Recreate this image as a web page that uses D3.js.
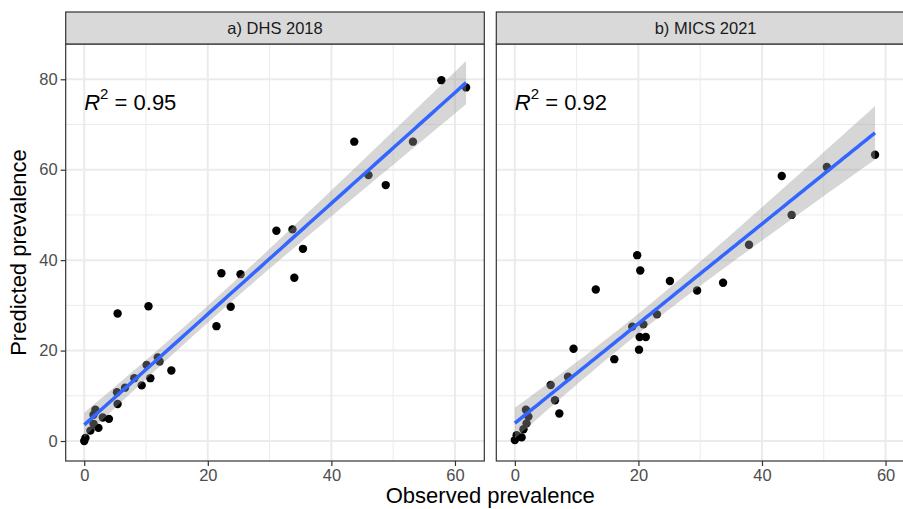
<!DOCTYPE html>
<html><head><meta charset="utf-8">
<script src="https://cdn.jsdelivr.net/npm/d3@7"></script>
<style>body{margin:0;background:#fff}svg{display:block}text{font-family:"Liberation Sans",Arial,Helvetica,sans-serif}</style>
</head><body>
<svg id="chart" width="903" height="509"></svg>
<script>
const panelTitles = ["a) DHS 2018", "b) MICS 2021"];
const r2Labels = ["0.95", "0.92"];
const dhsObserved  = [0.0,0.2,1.0,2.3,1.5,1.5,1.8,3.0,4.0,5.4,5.3,6.6,8.1,9.3,10.1,10.7,12.2,11.9,14.1,5.4,10.4,21.4,23.7,22.2,25.3,31.1,33.7,35.4,34.0,43.7,46.0,48.8,53.2,57.8,61.8];
const dhsPredicted = [0.0,0.7,2.3,2.9,3.8,5.8,6.9,5.2,4.9,8.2,10.8,11.8,13.9,12.3,16.8,13.9,17.6,18.5,15.6,28.2,29.8,25.4,29.7,37.1,36.9,46.5,46.8,42.5,36.1,66.2,58.8,56.6,66.2,79.8,78.2];
const micsObserved  = [0.0,0.3,1.1,1.4,1.9,1.8,2.2,5.8,6.5,7.2,8.6,9.5,13.1,16.1,19.0,19.8,20.3,20.1,20.2,21.2,20.8,23.0,25.1,29.5,33.7,37.9,43.2,44.8,50.5,58.3];
const micsPredicted = [0.2,1.3,0.8,2.6,3.9,6.9,5.4,12.4,9.0,6.1,14.2,20.4,33.5,18.1,25.3,41.1,37.7,20.2,23.0,23.0,25.8,28.0,35.4,33.3,35.0,43.4,58.6,50.0,60.6,63.3];
const xTicks = [0,20,40,60];
const yTicks = [0,20,40,60,80];
const xMinor = [10,30,50];
const yMinor = [10,30,50,70];
const xLabel = "Observed prevalence";
const yLabel = "Predicted prevalence";

const panels = [
  {title: panelTitles[0], r2: r2Labels[0], xs: dhsObserved, ys: dhsPredicted},
  {title: panelTitles[1], r2: r2Labels[1], xs: micsObserved, ys: micsPredicted}
];

const svg = d3.select("#chart");
const panelW = 418.6, topY = 44, bottomY = 461, stripTop = 12;
const lefts = [65.7, 496.3];
const x = d3.scaleLinear().domain([-3.0, 64.75]).range([0, panelW]);
const y = d3.scaleLinear().domain([-4.42, 87.8]).range([bottomY, topY]);

function tq(df){ return df >= 33 ? 2.035 : df >= 30 ? 2.042 : df>=28 ? 2.048 : 2.06; }

function fit(xs, ys){
  const n = xs.length, mx = d3.mean(xs), my = d3.mean(ys);
  let sxx=0, sxy=0;
  for(let i=0;i<n;i++){ sxx += (xs[i]-mx)**2; sxy += (xs[i]-mx)*(ys[i]-my); }
  const b = sxy/sxx, a = my - b*mx;
  let sse=0; for(let i=0;i<n;i++){ sse += (ys[i]-a-b*xs[i])**2; }
  const s = Math.sqrt(sse/(n-2)), t = tq(n-2);
  const lo = d3.min(xs), hi = d3.max(xs);
  return d3.range(0,81).map(k=>{
    const xv = lo + (hi-lo)*k/80, yv = a + b*xv;
    const se = s*Math.sqrt(1/n + (xv-mx)**2/sxx);
    return {x:xv, y:yv, lo:yv - t*se, hi:yv + t*se};
  });
}

const defs = svg.append("defs");
panels.forEach((p, i) => {
  const g = svg.append("g").attr("transform", `translate(${lefts[i]},0)`);
  defs.append("clipPath").attr("id","clip"+i).append("rect")
    .attr("x",0).attr("y",topY).attr("width",panelW).attr("height",bottomY-topY);
  g.append("rect").attr("x",0).attr("y",topY).attr("width",panelW).attr("height",bottomY-topY).attr("fill","#fff");
  const grid = g.append("g").attr("clip-path",`url(#clip${i})`);
  grid.selectAll(".xm").data(xMinor).join("line").attr("x1",d=>x(d)).attr("x2",d=>x(d))
    .attr("y1",topY).attr("y2",bottomY).attr("stroke","#ebebeb").attr("stroke-width",1);
  grid.selectAll(".ym").data(yMinor).join("line").attr("y1",d=>y(d)).attr("y2",d=>y(d))
    .attr("x1",0).attr("x2",panelW).attr("stroke","#ebebeb").attr("stroke-width",1);
  grid.selectAll(".xM").data(xTicks).join("line").attr("x1",d=>x(d)).attr("x2",d=>x(d))
    .attr("y1",topY).attr("y2",bottomY).attr("stroke","#ebebeb").attr("stroke-width",2);
  grid.selectAll(".yM").data(yTicks).join("line").attr("y1",d=>y(d)).attr("y2",d=>y(d))
    .attr("x1",0).attr("x2",panelW).attr("stroke","#ebebeb").attr("stroke-width",2);

  const data = p.xs.map((v,k)=>({x:v, y:p.ys[k]}));
  const marks = g.append("g").attr("clip-path",`url(#clip${i})`);
  marks.selectAll("circle").data(data).join("circle")
    .attr("cx",d=>x(d.x)).attr("cy",d=>y(d.y)).attr("r",4.2).attr("fill","#000");
  const f = fit(p.xs, p.ys);
  marks.append("path").datum(f)
    .attr("d", d3.area().x(d=>x(d.x)).y0(d=>y(d.lo)).y1(d=>y(d.hi)))
    .attr("fill","#999999").attr("fill-opacity",0.4);
  marks.append("path").datum(f)
    .attr("d", d3.line().x(d=>x(d.x)).y(d=>y(d.y)))
    .attr("fill","none").attr("stroke","#3366FF").attr("stroke-width",3.5);

  const lab = g.append("text").attr("x",x(0)).attr("y",y(75)).attr("dy","0.36em")
    .attr("font-size",22).attr("fill","#000");
  lab.append("tspan").attr("font-style","italic").text("R");
  lab.append("tspan").attr("font-size",15).attr("dy","-0.75em").text("2");
  lab.append("tspan").attr("dy","0.52em").text(" = " + p.r2);

  g.append("rect").attr("x",0).attr("y",topY).attr("width",panelW).attr("height",bottomY-topY)
    .attr("fill","none").attr("stroke","#333").attr("stroke-width",1.2);
  g.append("rect").attr("x",0).attr("y",stripTop).attr("width",panelW).attr("height",topY-stripTop)
    .attr("fill","#d9d9d9").attr("stroke","#333").attr("stroke-width",1.2);
  g.append("text").attr("x",panelW/2).attr("y",(stripTop+topY)/2).attr("dy","0.36em")
    .attr("text-anchor","middle").attr("font-size",16.5).attr("fill","#1a1a1a").text(p.title);

  const xa = g.append("g").attr("transform",`translate(0,${bottomY})`)
    .call(d3.axisBottom(x).tickValues(xTicks).tickSize(5).tickPadding(3).tickFormat(d3.format("d")));
  xa.select(".domain").remove();
  xa.selectAll("line").attr("stroke","#333").attr("stroke-width",1.2);
  xa.selectAll("text").attr("font-size",16.5).attr("fill","#4d4d4d").attr("font-family","Liberation Sans, Arial, sans-serif");
});

const ya = svg.append("g").attr("transform",`translate(${lefts[0]},0)`)
  .call(d3.axisLeft(y).tickValues(yTicks).tickSize(5).tickPadding(3).tickFormat(d3.format("d")));
ya.select(".domain").remove();
ya.selectAll("line").attr("stroke","#333").attr("stroke-width",1.2);
ya.selectAll("text").attr("font-size",16.5).attr("fill","#4d4d4d").attr("font-family","Liberation Sans, Arial, sans-serif");

svg.append("text").attr("x", (lefts[0] + lefts[1] + panelW)/2).attr("y",495).attr("dy","0.36em")
  .attr("text-anchor","middle").attr("font-size",22).attr("fill","#000").text(xLabel);
svg.append("text").attr("transform",`translate(18,${(topY+bottomY)/2}) rotate(-90)`).attr("dy","0.36em")
  .attr("text-anchor","middle").attr("font-size",22).attr("fill","#000").text(yLabel);
</script>
</body></html>
